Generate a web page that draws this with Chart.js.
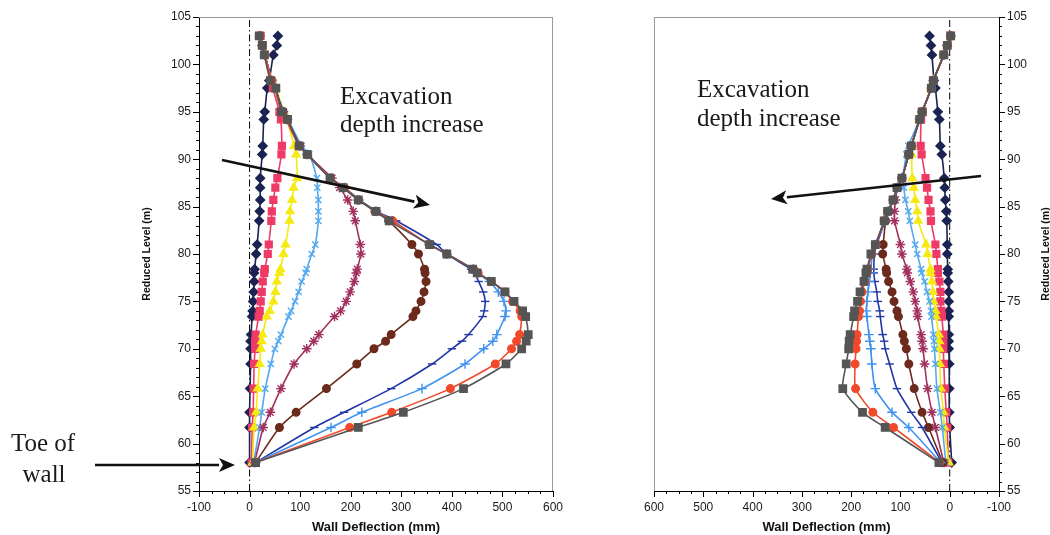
<!DOCTYPE html>
<html>
<head>
<meta charset="utf-8">
<title>Wall Deflection Profiles</title>
<script src="https://cdn.jsdelivr.net/npm/chart.js@4.4.1/dist/chart.umd.min.js"></script>
<style>
  html, body { margin: 0; padding: 0; background: #ffffff; }
  #wrap { position: relative; width: 1050px; height: 535px; overflow: hidden; }
  #leftChart { position: absolute; left: 0; top: 0; width: 600px; height: 535px; }
  #rightChart { position: absolute; left: 600px; top: 0; width: 450px; height: 535px; }
</style>
</head>
<body>
<div id="wrap">
  <canvas id="leftChart" width="600" height="535"></canvas>
  <canvas id="rightChart" width="450" height="535"></canvas>
</div>
<script>
// Reduced levels (m) of the wall nodes, top to toe
const LEVELS = [103, 102, 101, 98.3, 97.5, 95, 94.2, 91.4, 90.5, 88, 87, 85.7, 84.5, 83.5, 81, 80,
                78.4, 78, 77.1, 76, 75, 74, 73.4, 71.5, 70.8, 70, 68.4, 65.8, 63.3, 61.7, 58];

// Axis ticks
const Y_TICKS = [55, 60, 65, 70, 75, 80, 85, 90, 95, 100, 105];
const X_TICKS = [-100, 0, 100, 200, 300, 400, 500, 600];

// Left wall: deflection (mm) at each level, one array per excavation stage
const leftStage1  = [56, 54, 47, 39, 35, 30, 28, 26, 25, 21, 21, 21, 20, 19, 15, 13, 10, 9, 9, 8, 7, 6, 5, 3, 2, 2, 2, 1, 0, 0, 0];
const leftStage2  = [22, 26, 30, 42, 46, 59, 62, 64, 63, 55, 51, 47, 44, 43, 38, 36, 30, 29, 26, 24, 22, 20, 18, 12, 11, 11, 9, 8, 7, 5, 4];
const leftStage3  = [20, 25, 30, 44, 52, 68, 74, 88, 92, 94, 87, 84, 80, 79, 71, 67, 61, 59, 54, 51, 47, 40, 34, 26, 24, 22, 20, 16, 13, 9, 6];
const leftStage4  = [20, 25, 30, 44, 50, 68, 76, 103, 118, 133, 134, 136, 136, 136, 130, 123, 113, 111, 103, 97, 90, 82, 77, 62, 57, 50, 42, 31, 24, 20, 8];
const leftStage5  = [20, 25, 30, 44, 50, 67, 75, 100, 114, 163, 178, 194, 205, 209, 219, 220, 213, 211, 207, 199, 191, 180, 168, 137, 127, 113, 88, 62, 41, 27, 10];
const leftStage6  = [20, 25, 30, 44, 50, 66, 74, 99, 115, 160, 185, 215, 248, 275, 321, 334, 346, 347, 349, 345, 339, 329, 323, 280, 269, 246, 212, 152, 92, 59, 12];
const leftStage7  = [20, 25, 30, 44, 50, 65, 73, 99, 115, 160, 188, 217, 252, 290, 370, 390, 438, 445, 453, 462, 466, 464, 461, 433, 420, 400, 361, 280, 187, 128, 12];
const leftStage8  = [20, 25, 30, 44, 50, 64, 72, 98, 114, 160, 188, 215, 250, 283, 355, 390, 442, 450, 474, 492, 503, 507, 505, 489, 481, 463, 426, 341, 222, 161, 12];
const leftStage9  = [20, 25, 30, 44, 50, 63, 72, 98, 114, 160, 188, 215, 250, 283, 355, 390, 443, 452, 478, 505, 520, 535, 538, 534, 528, 518, 486, 397, 281, 198, 12];
const leftStage10 = [19, 25, 29, 41, 52, 63, 75, 98, 114, 159, 185, 215, 250, 276, 356, 390, 441, 450, 478, 505, 523, 540, 546, 551, 547, 538, 507, 423, 304, 215, 12];

// Right wall: deflection (mm) at each level, one array per excavation stage
const rightStage1  = [41, 38, 36, 32, 29, 24, 21, 19, 16, 11, 10, 9, 7, 6, 5, 5, 4, 4, 3, 2, 2, 2, 2, 2, 2, 2, 1, 1, 1, 0, -4];
const rightStage2  = [-2, 5, 12, 34, 38, 55, 58, 59, 57, 49, 46, 43, 39, 38, 29, 27, 24, 24, 21, 19, 19, 17, 16, 13, 13, 13, 12, 10, 7, 5, 3];
const rightStage3  = [-2, 5, 12, 33, 38, 56, 62, 76, 77, 76, 73, 70, 66, 64, 48, 45, 39, 39, 36, 34, 33, 29, 28, 22, 21, 21, 20, 18, 13, 11, 2];
const rightStage4  = [-2, 5, 12, 33, 37, 56, 61, 84, 88, 95, 93, 90, 84, 81, 70, 66, 58, 57, 51, 46, 41, 38, 37, 33, 32, 31, 29, 26, 19, 15, 8];
const rightStage5  = [-2, 5, 12, 33, 37, 56, 61, 78, 83, 97, 106, 110, 112, 112, 100, 97, 87, 86, 80, 74, 70, 66, 65, 58, 56, 54, 51, 45, 36, 29, 12];
const rightStage6  = [-2, 5, 12, 33, 37, 56, 61, 78, 83, 97, 106, 114, 124, 130, 135, 136, 129, 128, 124, 117, 113, 107, 104, 95, 92, 88, 83, 72, 56, 43, 14];
const rightStage7  = [-2, 5, 12, 33, 37, 56, 61, 78, 83, 97, 106, 114, 124, 131, 148, 153, 154, 154, 152, 148, 146, 142, 141, 136, 133, 131, 122, 107, 78, 56, 16];
const rightStage8  = [-2, 5, 12, 33, 37, 56, 61, 78, 83, 97, 106, 114, 125, 132, 150, 157, 160, 161, 163, 166, 168, 169, 168, 164, 162, 160, 158, 151, 117, 83, 18];
const rightStage9  = [-2, 5, 12, 33, 37, 56, 61, 78, 83, 97, 107, 115, 126, 133, 150, 158, 166, 168, 172, 178, 181, 183, 185, 188, 189, 190, 192, 191, 156, 114, 20];
const rightStage10 = [-2, 5, 12, 33, 37, 56, 61, 78, 83, 97, 107, 115, 126, 133, 151, 160, 168, 170, 174, 182, 187, 193, 195, 202, 204, 205, 210, 217, 177, 131, 22];

// Line colour and marker for each stage
const STAGE_STYLES = [
  { color: '#1b2352', marker: 'rectRot',  radius: 4.4 },
  { color: '#ef3a66', marker: 'rect',     radius: 4.8 },
  { color: '#f5ea12', marker: 'triangle', radius: 4.6 },
  { color: '#52a9ef', marker: 'crossRot', radius: 4.4 },
  { color: '#a2305e', marker: 'star',     radius: 4.8 },
  { color: '#6b2a1c', marker: 'circle',   radius: 3.8 },
  { color: '#2236a6', marker: 'line',     radius: 4.2 },
  { color: '#3f93ee', marker: 'cross',    radius: 4.8 },
  { color: '#f2492a', marker: 'circle',   radius: 3.8 },
  { color: '#555555', marker: 'rect',     radius: 5.2 }
];

const SANS = "'Liberation Sans', Arial, sans-serif";
const SERIF = "'Liberation Serif', 'Times New Roman', serif";

function stageDatasets(stages) {
  const sets = stages.map((values, i) => {
    const st = STAGE_STYLES[i];
    return {
      label: 'Stage ' + (i + 1),
      data: values.map((v, k) => ({ x: v, y: LEVELS[k] })),
      showLine: true,
      borderColor: st.color,
      backgroundColor: st.color,
      borderWidth: 1.6,
      tension: 0.2,
      pointStyle: st.marker,
      pointRadius: st.radius,
      pointBorderWidth: 1.4,
      pointBorderColor: st.color,
      pointBackgroundColor: st.color,
      order: 10 - i
    };
  });
  // dash-dot reference line at zero deflection
  sets.push({
    label: 'zero',
    data: [{ x: 0, y: 55 }, { x: 0, y: 105 }],
    showLine: true,
    borderColor: '#000000',
    borderWidth: 1,
    borderDash: [7, 3, 1.5, 3],
    pointRadius: 0,
    order: 50
  });
  return sets;
}

// Frame, minor/major tick marks, axis titles and annotations
const decorPlugin = {
  id: 'decor',
  afterDraw(chart, args, o) {
    const { ctx, chartArea: ca, scales: { x, y } } = chart;
    ctx.save();

    // light frame on the two open sides
    ctx.strokeStyle = '#9a9a9a';
    ctx.lineWidth = 1;
    ctx.beginPath();
    ctx.moveTo(ca.left, ca.top + 0.5); ctx.lineTo(ca.right, ca.top + 0.5);
    if (o.side === 'left') {
      ctx.moveTo(ca.right - 0.5, ca.top); ctx.lineTo(ca.right - 0.5, ca.bottom);
    } else {
      ctx.moveTo(ca.left + 0.5, ca.top); ctx.lineTo(ca.left + 0.5, ca.bottom);
    }
    ctx.stroke();

    // tick marks
    ctx.strokeStyle = '#000000';
    ctx.beginPath();
    const ax = o.side === 'left' ? ca.left : ca.right;
    const dir = o.side === 'left' ? -1 : 1;
    for (let v = 55; v <= 105; v += 1) {
      const py = Math.round(y.getPixelForValue(v)) + 0.5;
      const len = v % 5 === 0 ? 6 : 3;
      ctx.moveTo(ax, py); ctx.lineTo(ax + dir * len, py);
    }
    for (let v = -100; v <= 600; v += 25) {
      const px = Math.round(x.getPixelForValue(v)) + 0.5;
      const len = v % 100 === 0 ? 6 : 3;
      ctx.moveTo(px, ca.bottom); ctx.lineTo(px, ca.bottom + len);
    }
    ctx.stroke();

    // axis titles
    ctx.fillStyle = '#111111';
    ctx.font = 'bold 13px ' + SANS;
    ctx.textAlign = 'center';
    ctx.textBaseline = 'middle';
    ctx.fillText('Wall Deflection (mm)', (ca.left + ca.right) / 2, 527);
    ctx.save();
    ctx.translate(o.yTitleX, (ca.top + ca.bottom) / 2);
    ctx.rotate(-Math.PI / 2);
    ctx.font = 'bold 10.5px ' + SANS;
    ctx.fillText('Reduced Level (m)', 0, 0);
    ctx.restore();

    // annotations
    ctx.fillStyle = '#1a1a1a';
    ctx.font = '25px ' + SERIF;
    ctx.textBaseline = 'alphabetic';
    o.texts.forEach(t => {
      ctx.textAlign = t.align || 'left';
      ctx.fillText(t.text, t.x, t.y);
    });
    o.arrows.forEach(a => drawArrow(ctx, a[0], a[1], a[2], a[3]));
    ctx.restore();
  }
};

function drawArrow(ctx, x1, y1, x2, y2) {
  const ang = Math.atan2(y2 - y1, x2 - x1);
  const headLen = 16, headHalf = 7;
  const bx = x2 - headLen * Math.cos(ang), by = y2 - headLen * Math.sin(ang);
  ctx.strokeStyle = '#111111';
  ctx.fillStyle = '#111111';
  ctx.lineWidth = 2.6;
  ctx.beginPath();
  ctx.moveTo(x1, y1); ctx.lineTo(bx, by);
  ctx.stroke();
  ctx.beginPath();
  ctx.moveTo(x2, y2);
  ctx.lineTo(bx + headHalf * Math.sin(ang), by - headHalf * Math.cos(ang));
  ctx.lineTo(x2 - (headLen - 4) * Math.cos(ang), y2 - (headLen - 4) * Math.sin(ang));
  ctx.lineTo(bx - headHalf * Math.sin(ang), by + headHalf * Math.cos(ang));
  ctx.closePath();
  ctx.fill();
}

function makeChart(canvasId, stages, side, pad, yWidth, decor) {
  const fitX = s => { s.height = 44; s.paddingLeft = 0; s.paddingRight = 0; };
  const fitY = s => { s.width = yWidth; s.paddingTop = 0; s.paddingBottom = 0; };
  return new Chart(document.getElementById(canvasId), {
    type: 'scatter',
    data: { datasets: stageDatasets(stages) },
    options: {
      responsive: false,
      animation: false,
      layout: { padding: pad },
      plugins: { legend: { display: false }, tooltip: { enabled: false }, decor: decor },
      scales: {
        x: {
          type: 'linear',
          position: 'bottom',
          min: X_TICKS[0],
          max: X_TICKS[X_TICKS.length - 1],
          reverse: side === 'right',
          afterFit: fitX,
          afterBuildTicks: s => { s.ticks = X_TICKS.map(v => ({ value: v })); },
          grid: { display: false, drawTicks: false },
          border: { display: true, color: '#000000', width: 1 },
          ticks: { padding: 9, color: '#1a1a1a', font: { family: SANS, size: 12 }, maxRotation: 0, autoSkip: false }
        },
        y: {
          type: 'linear',
          position: side,
          min: Y_TICKS[0],
          max: Y_TICKS[Y_TICKS.length - 1],
          afterFit: fitY,
          afterBuildTicks: s => { s.ticks = Y_TICKS.map(v => ({ value: v })); },
          grid: { display: false, drawTicks: false },
          border: { display: true, color: '#000000', width: 1 },
          ticks: { padding: 8, color: '#1a1a1a', font: { family: SANS, size: 12 }, autoSkip: false }
        }
      }
    },
    plugins: [decorPlugin]
  });
}

makeChart('leftChart',
  [leftStage1, leftStage2, leftStage3, leftStage4, leftStage5, leftStage6, leftStage7, leftStage8, leftStage9, leftStage10],
  'left', { left: 130, right: 47, top: 17, bottom: 0 }, 69,
  {
    side: 'left',
    yTitleX: 147,
    texts: [
      { text: 'Excavation', x: 340, y: 104 },
      { text: 'depth increase', x: 340, y: 132 },
      { text: 'Toe of', x: 43, y: 451, align: 'center' },
      { text: 'wall', x: 44, y: 482, align: 'center' }
    ],
    arrows: [[222, 160, 430, 205], [95, 465, 235, 465]]
  });

makeChart('rightChart',
  [rightStage1, rightStage2, rightStage3, rightStage4, rightStage5, rightStage6, rightStage7, rightStage8, rightStage9, rightStage10],
  'right', { left: 54, right: 0, top: 17, bottom: 0 }, 51,
  {
    side: 'right',
    yTitleX: 446,
    texts: [
      { text: 'Excavation', x: 97, y: 97 },
      { text: 'depth increase', x: 97, y: 126 }
    ],
    arrows: [[381, 176, 171, 199]]
  });
</script>
</body>
</html>
